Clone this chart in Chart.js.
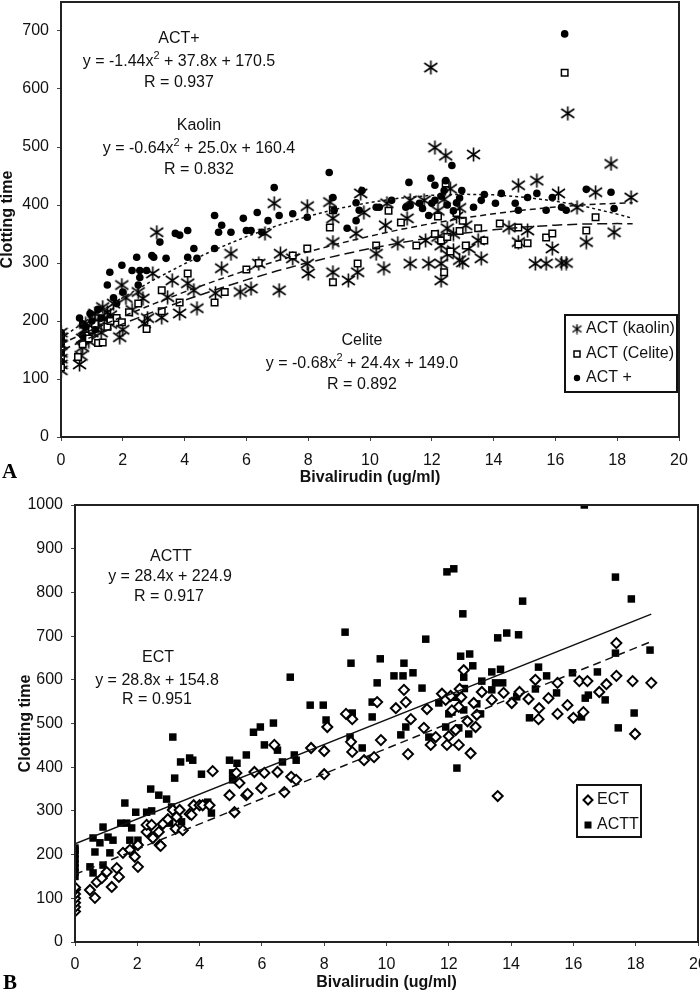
<!DOCTYPE html>
<html>
<head>
<meta charset="utf-8">
<script src="https://cdn.jsdelivr.net/npm/chart.js@4/dist/chart.umd.min.js"></script>
<style>
  body { margin: 0; background: #fff; }
  #wrap-a { position: absolute; left: 0; top: 0; }
  #wrap-b { position: absolute; left: 0; top: 495px; }
</style>
</head>
<body>
<div id="wrap-a"><canvas id="chart-a" width="700" height="495"></canvas></div>
<div id="wrap-b"><canvas id="chart-b" width="700" height="496"></canvas></div>
<script>
// ---- panel A data (x = bivalirudin ug/ml, y = clotting time) ----
const kaolinPts = [[0,115],[0,125],[0,135],[0,145],[0,160],[0,172],[0,180],
  [0.6,125],[0.65,140],[0.7,155],[0.7,170],[0.75,185],[0.8,195],[0.9,165],[1.0,180],[1.1,200],[1.1,213],[1.2,190],
  [1.3,180],[1.35,224],[1.4,205],[1.5,215],[1.6,195],[1.6,210],[1.7,230],[1.9,172],[1.97,262],[2.0,185],[2.1,240],[2.3,219],
  [2.5,250],[2.65,239],[2.7,196],[2.8,205],[2.97,282],[3.1,353],[3.26,206],[3.45,241],[3.6,270],[3.84,213],
  [4.1,265],[4.3,253],[4.4,222],[5.0,248],[5.2,291],[5.5,316],[5.8,250],[6.15,256],[6.4,299],[6.6,351],
  [6.9,403],[7.06,253],[7.1,316],[7.5,308],[7.97,398],[7.97,299],[8.0,282],[8.7,405],[8.8,377],[8.8,336],
  [8.8,284],[9.3,270],[9.55,351],[9.6,284],[9.7,420],[9.8,387],[10.2,316],[10.45,291],[10.5,365],[10.55,403],
  [10.9,334],[11.2,377],[11.3,408],[11.3,299],[11.75,408],[11.8,339],[11.9,299],[11.97,637],[12.1,499],
  [12.2,390],[12.2,345],[12.3,299],[12.3,270],[12.3,330],[12.4,410],[12.45,485],[12.5,360],[12.5,315],[12.6,428],
  [12.7,322],[12.7,350],[12.8,380],[12.9,305],[12.9,395],[13.0,301],[13.1,365],[13.2,325],[13.35,487],[13.5,339],
  [13.6,308],[14.5,361],[14.8,434],[14.8,336],[15.1,356],
  [15.35,299],[15.4,442],[15.7,299],[15.9,325],[16.1,420],[16.2,300],[16.35,300],[16.4,558],[16.7,396],
  [17.0,336],[17.3,422],[17.8,471],[17.9,353],[18.45,413]];
const celitePts = [[0,120],[0,135],[0,150],[0,165],[0,175],[0.55,138],[0.7,160],[0.8,175],[0.9,170],[1.0,185],
  [1.1,195],[1.2,162],[1.35,163],[1.5,190],[1.6,200],[1.8,205],[1.97,198],[2.2,215],[2.5,230],[2.77,186],[3.26,217],[3.26,253],
  [3.84,232],[4.1,282],[4.97,232],[5.3,250],[6.0,289],[6.4,300],[7.5,313],[7.97,325],[8.7,361],[8.8,391],
  [8.8,267],[9.6,299],[10.2,330],[10.6,390],[11.0,370],[11.5,330],[12.1,350],[12.2,380],[12.3,339],[12.4,284],
  [12.45,437],[12.5,345],[12.6,320],[12.8,386],[12.9,355],[13.0,373],[13.1,330],[13.5,360],[13.7,339],[14.2,368],
  [14.8,361],[14.8,332],[15.1,334],[15.7,344],[15.9,351],[16.3,628],[17.0,356],[17.3,379]];
const actPlusPts = [[0,130],[0,145],[0,160],[0,170],[0,180],[0.6,205],[0.7,175],[0.7,195],[0.8,190],[0.94,213],
  [1.0,200],[1.1,185],[1.2,220],[1.3,205],[1.5,262],[1.58,284],[1.7,240],[1.8,230],[1.97,296],[2.0,250],[2.3,287],
  [2.45,310],[2.5,262],[2.55,275],[2.55,287],[2.77,287],[2.94,313],[3.0,310],[3.2,336],[3.4,308],[3.7,351],
  [3.84,348],[4.1,356],[4.1,310],[4.3,325],[4.4,308],[4.97,382],[4.97,325],[5.1,353],[5.2,365],[5.5,353],
  [5.9,377],[6.0,356],[6.15,356],[6.35,387],[6.5,353],[6.7,373],[6.9,430],[7.06,382],[7.5,385],[7.97,379],
  [8.68,456],[8.8,413],[8.84,391],[9.26,360],[9.55,404],[9.55,373],[9.65,391],[9.74,425],[10.2,396],[10.3,396],
  [10.7,408],[11.16,396],[11.26,439],[11.3,399],[11.6,403],[11.7,394],[11.9,382],[11.97,446],[12.0,403],
  [12.1,434],[12.1,408],[12.3,415],[12.4,425],[12.45,442],[12.5,400],[12.65,468],[12.7,390],[12.8,404],
  [12.9,412],[12.97,425],[13.35,396],[13.6,408],[13.7,418],[14.06,403],[14.25,420],[14.7,403],[14.8,391],
  [15.1,413],[15.4,420],[15.7,391],[15.9,413],[16.2,396],[16.3,695],[16.35,391],[17.0,427],[17.8,422],[17.9,394]];

// fitted curves as printed on panel A, read at each x
const fitXA = [0,1,2,3,4,5,6,7,8,9,10,11,12,13,14,15,16,17,18,18.5];
const actPlusFit = [170.5,206.9,240.3,270.9,298.7,323.5,345.5,364.5,380.7,394.1,404.5,412.1,416.7,418.5,417.5,413.5,406.7,396.9,384.3,377.0];
const kaolinFit = [160.4,184.8,207.8,229.6,250.2,269.4,287.4,304.0,319.4,333.6,346.4,358.0,368.2,377.2,385.0,391.4,396.6,400.4,403.0,403.9];
const celiteFit = [149.0,172.7,195.1,216.1,235.7,254.0,270.9,286.5,300.7,313.5,325.0,335.1,343.9,351.3,357.3,362.0,365.3,367.3,367.9,367.7];

// ---- panel B data ----
const acttPts = [[0,150],[0,160],[0,170],[0,180],[0,190],[0,200],[0,210],[0,215],
  [0.48,172],[0.58,158],[0.58,238],[0.64,206],[0.8,227],[0.9,176],[0.9,263],[1.06,240],[1.12,204],[1.22,233],
  [1.47,272],[1.6,318],[1.66,272],[1.76,233],[1.82,261],[1.82,211],[1.95,297],[2.02,233],[2.3,297],[2.43,350],
  [2.46,300],[2.69,336],[2.94,327],[3.04,272],[3.1,309],[3.14,469],[3.2,375],[3.39,412],[3.42,275],[3.68,421],
  [3.78,416],[4.06,384],[4.26,320],[4.38,295],[4.96,416],[5.06,387],[5.06,371],[5.2,409],[5.5,428],[5.73,480],
  [5.95,492],[6.08,451],[6.37,501],[6.5,439],[6.66,412],[6.91,606],[7.04,428],[7.1,416],[7.55,542],[7.97,542],
  [8.06,508],[8.67,709],[8.83,469],[8.86,638],[8.9,524],[9.22,444],[9.54,549],[9.54,515],[9.7,593],[9.8,648],
  [10.24,609],[10.46,474],[10.53,609],[10.56,638],[10.62,492],[10.85,616],[11.14,581],[11.26,693],[11.36,469],
  [11.68,547],[11.9,492],[11.94,847],[12.0,522],[12.1,526],[12.16,854],[12.2,560],[12.26,398],[12.32,490],
  [12.38,654],[12.45,751],[12.48,606],[12.48,531],[12.5,580],[12.64,476],[12.67,659],[12.77,632],[12.9,545],
  [13.02,522],[13.06,597],[13.38,618],
  [13.38,577],[13.5,593],[13.57,696],[13.66,624],[13.73,593],[13.86,707],[14.18,561],[14.24,703],[14.37,780],
  [14.59,513],[14.78,579],[14.88,629],[15.14,609],[15.46,570],[15.97,616],[16.26,515],[16.35,1000],[16.38,558],
  [16.48,565],[16.77,618],[17.02,554],[17.35,835],[17.35,661],[17.44,490],[17.86,785],[17.95,524],[18.46,668]];
const ectPts = [[0,70],[0,80],[0,90],[0,100],[0,110],[0,120],[0,125],
  [0.48,119],[0.64,101],[0.7,137],[0.86,146],[1.02,160],[1.18,126],[1.34,169],[1.41,149],[1.54,204],[1.76,211],
  [1.92,195],[2.02,172],[2.02,222],[2.3,252],[2.3,268],[2.46,268],[2.5,238],[2.69,252],[2.72,222],[2.75,220],
  [2.82,270],[2.98,281],[3.14,302],[3.23,259],[3.26,286],[3.36,302],[3.46,256],[3.68,293],[3.74,291],[3.81,313],
  [4.0,313],[4.1,313],[4.32,313],[4.42,391],[4.96,336],[5.12,297],[5.18,387],[5.28,364],[5.5,336],[5.54,339],
  [5.76,389],[5.98,352],[6.08,387],[6.4,451],[6.5,389],[6.72,343],[6.94,378],[7.1,371],[7.58,444],[8.0,437],
  [8.0,384],[8.1,492],[8.7,522],[8.86,458],[8.9,510],[8.9,435],[9.28,416],[9.6,423],[9.7,549],[9.82,462],
  [10.3,535],[10.56,577],[10.62,549],[10.69,430],[10.78,510],[11.2,490],[11.3,533],[11.42,451],[11.58,469],
  [11.78,568],[11.9,554],[11.94,451],[12.0,471],[12.06,563],[12.1,530],[12.22,485],[12.32,538],[12.32,451],
  [12.35,579],[12.4,560],[12.48,622],[12.6,505],[12.7,432],[12.8,547],[12.86,492],[12.9,520],[13.06,572],
  [13.38,554],[13.57,334],[13.76,570],[14.02,547],
  [14.27,572],[14.56,556],[14.78,600],[14.88,510],[14.9,535],[15.2,558],[15.49,593],[15.49,522],[15.81,542],
  [16.0,513],[16.19,597],[16.32,526],[16.45,597],[16.83,572],[17.06,590],[17.38,684],[17.38,609],[17.9,597],
  [17.98,476],[18.5,593]];

// straight fits printed on panel B, at both ends of the data
const fitXB = [0, 18.5];
const acttFit = [224.9, 750.3];
const ectFit = [154.8, 687.6];

const xTicks = [0,2,4,6,8,10,12,14,16,18,20];

const FONT = '"Liberation Sans", Arial, sans-serif';
const toXY = arr => arr.map(p => ({x: p[0], y: p[1]}));
const zip = (xs, ys) => xs.map((x, i) => ({x: x, y: ys[i]}));

function makeStar(size, lw) {
  const c = document.createElement('canvas');
  c.width = size; c.height = size;
  const g = c.getContext('2d');
  g.strokeStyle = '#000'; g.lineWidth = lw;
  const m = size / 2;
  g.beginPath();
  g.moveTo(m, 0.5); g.lineTo(m, size - 0.5);
  g.moveTo(1, size * 0.2); g.lineTo(size - 1, size * 0.8);
  g.moveTo(size - 1, size * 0.2); g.lineTo(1, size * 0.8);
  g.stroke();
  return c;
}
const star = makeStar(15, 1.6);
const starSmall = makeStar(11, 1.4);

// text with a "^2" superscript
function drawEq(ctx, str, cx, cy) {
  const bits = str.split('^2');
  const main = '16px ' + FONT, small = '11px ' + FONT;
  let w = 0;
  bits.forEach((b, i) => {
    ctx.font = main; w += ctx.measureText(b).width;
    if (i < bits.length - 1) { ctx.font = small; w += ctx.measureText('2').width; }
  });
  let x = cx - w / 2;
  ctx.textAlign = 'left'; ctx.textBaseline = 'middle'; ctx.fillStyle = '#111';
  bits.forEach((b, i) => {
    ctx.font = main; ctx.fillText(b, x, cy); x += ctx.measureText(b).width;
    if (i < bits.length - 1) {
      ctx.font = small; ctx.fillText('2', x, cy - 6); x += ctx.measureText('2').width;
    }
  });
}

function marker(ctx, kind, x, y) {
  ctx.save();
  ctx.fillStyle = '#000'; ctx.strokeStyle = '#000'; ctx.lineWidth = 1.5;
  if (kind === 'star') ctx.drawImage(starSmall, x - 5.5, y - 5.5);
  else if (kind === 'openSq') { ctx.fillStyle = '#fff'; ctx.fillRect(x - 3, y - 3, 6, 6); ctx.strokeRect(x - 3, y - 3, 6, 6); }
  else if (kind === 'dot') { ctx.beginPath(); ctx.arc(x, y, 3.2, 0, Math.PI * 2); ctx.fill(); }
  else if (kind === 'diamond') {
    ctx.lineWidth = 2; ctx.fillStyle = '#fff';
    ctx.beginPath(); ctx.moveTo(x - 4.5, y); ctx.lineTo(x, y - 4.5); ctx.lineTo(x + 4.5, y); ctx.lineTo(x, y + 4.5); ctx.closePath();
    ctx.fill(); ctx.stroke();
  } else if (kind === 'fillSq') ctx.fillRect(x - 3.5, y - 3.5, 7, 7);
  ctx.restore();
}

function decorations(notes, legend, letter) {
  return {
    id: 'decor',
    afterDraw(chart) {
      const ctx = chart.ctx, a = chart.chartArea;
      ctx.save();
      ctx.strokeStyle = '#222'; ctx.lineWidth = 2;
      ctx.strokeRect(a.left, a.top, a.right - a.left, a.bottom - a.top);
      notes.forEach(n => drawEq(ctx, n[0], n[1], n[2]));
      const b = legend.box;
      ctx.fillStyle = '#fff'; ctx.fillRect(b[0], b[1], b[2], b[3]);
      ctx.strokeStyle = '#111'; ctx.lineWidth = 2; ctx.strokeRect(b[0], b[1], b[2], b[3]);
      legend.rows.forEach(r => {
        marker(ctx, r[1], legend.mx, r[2]);
        ctx.font = legend.font + ' ' + FONT; ctx.fillStyle = '#111';
        ctx.textAlign = 'left'; ctx.textBaseline = 'middle';
        ctx.fillText(r[0], legend.tx, r[2]);
      });
      ctx.font = 'bold 21px "Liberation Serif", "DejaVu Serif", serif';
      ctx.fillStyle = '#000'; ctx.textAlign = 'left'; ctx.textBaseline = 'alphabetic';
      ctx.fillText(letter[0], letter[1], letter[2]);
      ctx.restore();
    }
  };
}

const noPad = s => { s.paddingTop = 0; s.paddingBottom = 0; s.paddingLeft = 0; s.paddingRight = 0; };

function scales(yMax, yWidth, xHeight, xTickPad, yTitlePad, xTitlePad) {
  const tickFont = {family: FONT, size: 16};
  const titleFont = {family: FONT, size: 16, weight: 'bold', lineHeight: 1};
  return {
    x: {
      type: 'linear', min: 0, max: 20,
      afterBuildTicks: s => { s.ticks = xTicks.map(v => ({value: v})); },
      afterFit: s => { s.height = xHeight; noPad(s); },
      ticks: {font: tickFont, color: '#111', padding: xTickPad, maxRotation: 0, callback: v => String(v)},
      grid: {drawOnChartArea: false, tickLength: 4, color: '#444'},
      border: {color: '#222', width: 2},
      title: {display: true, text: 'Bivalirudin (ug/ml)', font: titleFont, color: '#111', padding: {top: 0, bottom: xTitlePad}}
    },
    y: {
      type: 'linear', min: 0, max: yMax,
      afterBuildTicks: s => {
        const t = [];
        for (let v = 0; v <= yMax; v += 100) t.push({value: v});
        s.ticks = t;
      },
      afterFit: s => { s.width = yWidth; noPad(s); },
      ticks: {font: tickFont, color: '#111', padding: 8, callback: v => String(v)},
      grid: {drawOnChartArea: false, tickLength: 4, color: '#444'},
      border: {color: '#222', width: 2},
      title: {display: true, text: 'Clotting time', font: titleFont, color: '#111', padding: {top: yTitlePad, bottom: 0}}
    }
  };
}

const fitLine = (data, dash) => ({
  data: data, showLine: true, pointRadius: 0, borderColor: '#111', borderWidth: 1.5,
  borderDash: dash, fill: false
});

// ---- chart A ----
const notesA = [
  ['ACT+', 179, 39], ['y = -1.44x^2 + 37.8x + 170.5', 179, 62], ['R = 0.937', 179, 83],
  ['Kaolin', 199, 126], ['y = -0.64x^2 + 25.0x + 160.4', 199, 149], ['R = 0.832', 199, 170],
  ['Celite', 362, 341], ['y = -0.68x^2 + 24.4x + 149.0', 362, 364], ['R = 0.892', 362, 385]
];
const legendA = {
  box: [565, 315, 112, 77], mx: 577, tx: 586, font: '16px',
  rows: [['ACT (kaolin)', 'star', 329], ['ACT (Celite)', 'openSq', 354], ['ACT +', 'dot', 378]]
};

new Chart(document.getElementById('chart-a'), {
  type: 'scatter',
  data: {
    datasets: [
      fitLine(zip(fitXA, actPlusFit), [3, 3]),
      fitLine(zip(fitXA, kaolinFit), [6, 4]),
      fitLine(zip(fitXA, celiteFit), [10, 5]),
      {label: 'ACT +', data: toXY(actPlusPts), pointStyle: 'circle', pointRadius: 3.8,
       backgroundColor: '#000', borderColor: '#000', borderWidth: 0},
      {label: 'ACT (Celite)', data: toXY(celitePts), pointStyle: 'rect', pointRadius: 4.6,
       backgroundColor: '#fff', borderColor: '#000', borderWidth: 1.5},
      {label: 'ACT (kaolin)', data: toXY(kaolinPts), pointStyle: star, pointRadius: 7,
       backgroundColor: '#000', borderColor: '#000'}
    ]
  },
  options: {
    responsive: false, animation: false, events: [],
    layout: {autoPadding: false, padding: {top: 2, right: 21, left: 0, bottom: 0}},
    plugins: {legend: {display: false}, tooltip: {enabled: false}},
    scales: scales(750, 61, 58, 10, 0, 9)
  },
  plugins: [decorations(notesA, legendA, ['A', 2, 478])]
});

// ---- chart B ----
const notesB = [
  ['ACTT', 171, 62], ['y = 28.4x + 224.9', 170, 82], ['R = 0.917', 169, 102],
  ['ECT', 158, 163], ['y = 28.8x + 154.8', 157, 186], ['R = 0.951', 157, 205]
];
const legendB = {
  box: [577, 290, 64, 52], mx: 588, tx: 597, font: '16px',
  rows: [['ECT', 'diamond', 305], ['ACTT', 'fillSq', 330]]
};

new Chart(document.getElementById('chart-b'), {
  type: 'scatter',
  data: {
    datasets: [
      fitLine(zip(fitXB, acttFit), []),
      fitLine(zip(fitXB, ectFit), [8, 5]),
      {label: 'ECT', data: toXY(ectPts), pointStyle: 'rectRot', pointRadius: 5,
       backgroundColor: '#fff', borderColor: '#000', borderWidth: 2},
      {label: 'ACTT', data: toXY(acttPts), pointStyle: 'rect', pointRadius: 5.3,
       backgroundColor: '#000', borderColor: '#000', borderWidth: 0}
    ]
  },
  options: {
    responsive: false, animation: false, events: [],
    layout: {autoPadding: false, padding: {top: 10, right: 2, left: 0, bottom: 0}},
    plugins: {legend: {display: false}, tooltip: {enabled: false}},
    scales: scales(1000, 75, 49, 9, 18, 0)
  },
  plugins: [decorations(notesB, legendB, ['B', 3, 494])]
});
</script>
</body>
</html>
